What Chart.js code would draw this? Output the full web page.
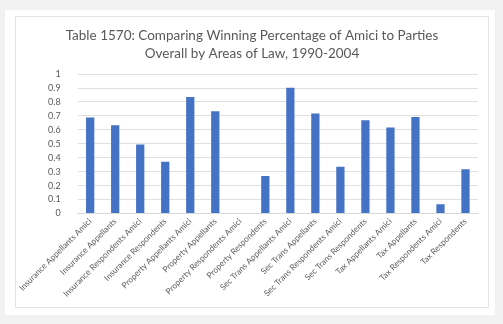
<!DOCTYPE html>
<html>
<head>
<meta charset="utf-8">
<script src="https://cdn.jsdelivr.net/npm/chart.js@4"></script>
<style>
  html, body { margin: 0; padding: 0; background: #f2f2f2; width: 503px; height: 324px; overflow: hidden; }
  #card { position: absolute; left: 5px; top: 10px; width: 490px; height: 305px; background: #fff; }
  #frame { position: absolute; left: 15px; top: 16px; width: 472px; height: 290px; border: 1px solid #e3e3e3; background: #fff; }
  #frame canvas { display: block; }
</style>
</head>
<body>
<div id="card"></div>
<div id="frame"><canvas id="grafica" width="472" height="290"></canvas></div>
<script>
// Datos
var categorias = [
  "Insurance Appellants Amici", "Insurance Appellants", "Insurance Respondents Amici", "Insurance Respondents",
  "Property Appellants Amici", "Property Appellants", "Property Respondents Amici", "Property Respondents",
  "Sec Trans Appellants Amici", "Sec Trans Appellants", "Sec Trans Respondents Amici", "Sec Trans Respondents",
  "Tax Appellants Amici", "Tax Appellants", "Tax Respondents Amici", "Tax Respondents"
];
var porcentajes = [0.688, 0.633, 0.495, 0.371, 0.836, 0.733, 0, 0.269, 0.902, 0.717, 0.336, 0.669, 0.617, 0.693, 0.067, 0.317];
var titulo = ["Table 1570: Comparing Winning Percentage of Amici to Parties", "Overall by Areas of Law, 1990-2004"];

Chart.defaults.font.family = "Lato, 'Open Sans', sans-serif";
Chart.defaults.color = "#595959";

var ctx = document.getElementById("grafica").getContext("2d");
var miGrafica = new Chart(ctx, {
  type: "bar",
  data: {
    labels: categorias,
    datasets: [{
      label: "Winning Percentage",
      backgroundColor: "#4472c4",
      data: porcentajes,
      categoryPercentage: 1,
      barPercentage: 0.33
    }]
  },
  options: {
    responsive: false,
    animation: false,
    layout: { padding: { left: 10, right: 10, top: 6, bottom: 5 } },
    plugins: {
      legend: { display: false },
      tooltip: { enabled: false },
      title: {
        display: true,
        text: titulo,
        color: "#595959",
        font: { size: 13.5, weight: "normal", lineHeight: 1.3 },
        padding: { top: 4, bottom: 12 }
      }
    },
    scales: {
      x: {
        grid: { display: false, drawTicks: false },
        border: { color: "#d9d9d9" },
        ticks: { autoSkip: false, maxRotation: 45, minRotation: 45, font: { size: 8.3 }, padding: 3 }
      },
      y: {
        min: 0,
        max: 1,
        ticks: {
          stepSize: 0.1,
          autoSkip: false,
          font: { size: 9 },
          padding: 17,
          callback: function (v) { return String(Math.round(v * 10) / 10); }
        },
        grid: { color: "#e0e0e0", drawTicks: false },
        border: { display: false }
      }
    }
  }
});
</script>
</body>
</html>
